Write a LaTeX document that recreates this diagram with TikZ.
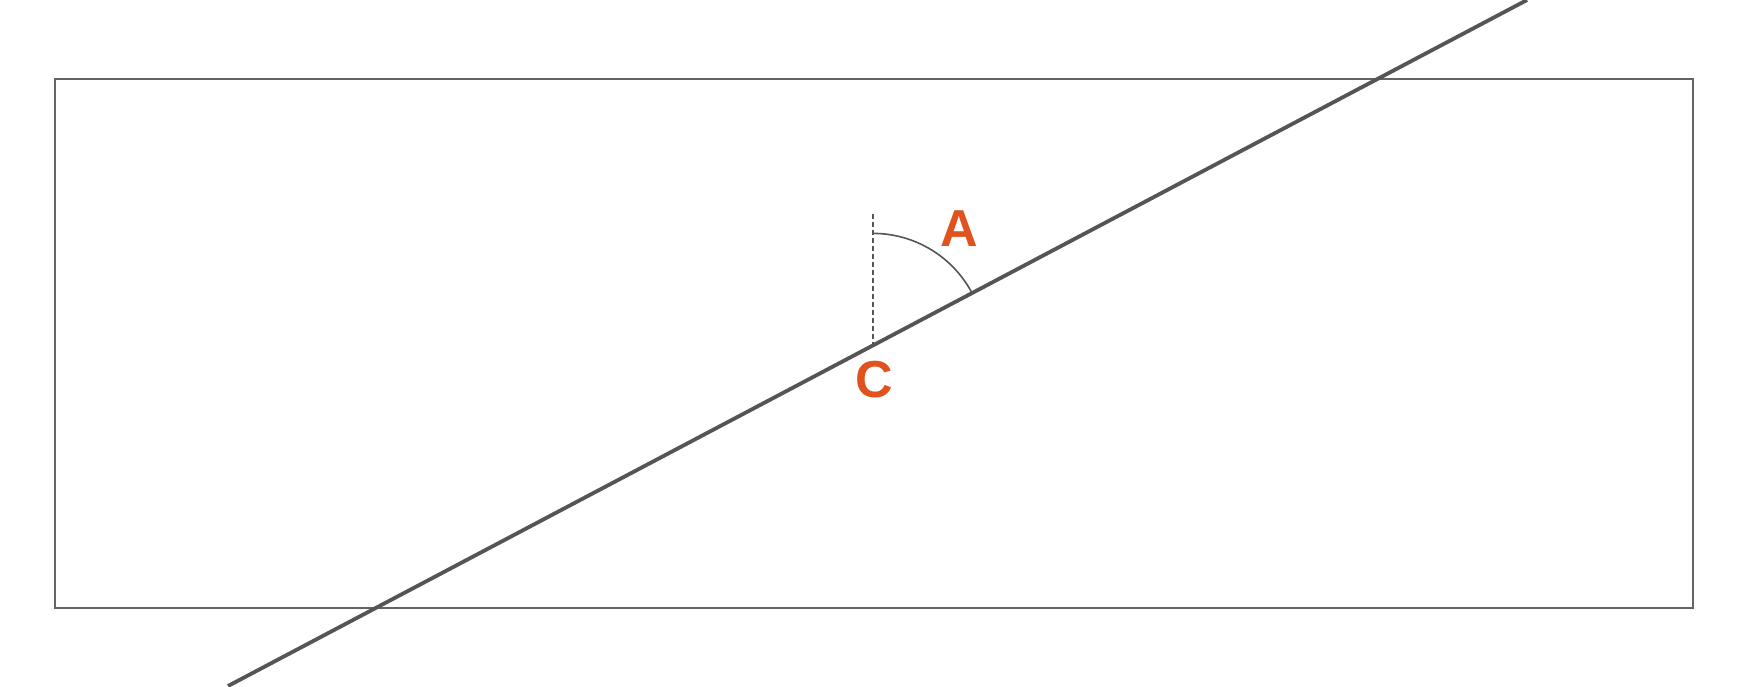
\documentclass[tikz,border=0pt]{standalone}
\usepackage{fontspec}
\setmainfont{Liberation Sans}
\definecolor{lbl}{RGB}{224,82,30}
\definecolor{ln}{RGB}{85,85,85}
\definecolor{bx}{RGB}{100,100,100}
\begin{document}
\begin{tikzpicture}[x=1pt,y=-1pt,
  boxline/.style={draw=bx,line width=1.6pt},
  mainline/.style={draw=ln,line width=3.8pt},
  thinline/.style={draw=ln,line width=1.6pt},
  dashline/.style={draw=ln,line width=1.3pt,dash pattern=on 5pt off 3pt},
  lab/.style={text=lbl,font=\bfseries\fontsize{52}{52}\selectfont,inner sep=0pt}]
\useasboundingbox (0,0) rectangle (1758,686);
\fill[white] (0,0) rectangle (1758,686);
\draw[boxline] (55,79) rectangle (1693,608);
\coordinate (L1) at (228,686);
\coordinate (L2) at (1527,0);
\coordinate (C) at (873,345.4);
\coordinate (Ctop) at (873,214);
\draw[mainline] (L1) -- (L2);
\draw[dashline] (Ctop) -- (C);
\draw[thinline] ([yshift=112pt]C) arc[start angle=90,end angle=27.8,radius=112pt];
\node[lab] (A) at (959,229) {A};
\node[lab] (Clab) at (874,380) {C};
\end{tikzpicture}
\end{document}
